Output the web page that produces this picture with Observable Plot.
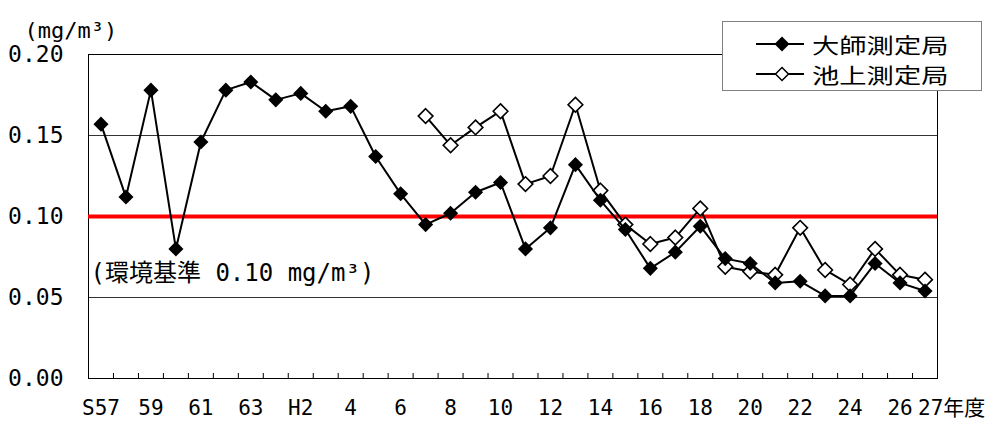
<!DOCTYPE html>
<html><head><meta charset="utf-8">
<script src="https://cdn.jsdelivr.net/npm/d3@7"></script>
<script src="https://cdn.jsdelivr.net/npm/@observablehq/plot@0.6"></script>
<style>
body{margin:0;background:#fff;}
#wrap{position:relative;width:1004px;height:421px;}
#legend{position:absolute;left:722px;top:21px;width:258px;height:68px;border:1px solid #808080;background:#fff;font-family:"Noto Sans CJK JP",sans-serif;font-size:21px;color:#000;}
.row{position:absolute;left:0;height:30px;width:258px;}
.row svg{position:absolute;left:31px;top:0;}
.row span{position:absolute;left:89px;top:0;line-height:30px;white-space:nowrap;transform:scaleX(1.3);transform-origin:0 50%;}
</style></head>
<body>
<div id="wrap"><div id="chart"></div><div id="legend"></div></div>
<script>
// categories (fiscal years)
const years = ["S57","S58","S59","S60","S61","S62","S63","H1","H2","H3","H4","H5","H6","H7","H8","H9","H10","H11","H12","H13","H14","H15","H16","H17","H18","H19","H20","H21","H22","H23","H24","H25","H26","H27"];
// 大師測定局
const daishi = [0.157,0.112,0.178,0.080,0.146,0.178,0.183,0.172,0.176,0.165,0.168,0.137,0.114,0.095,0.102,0.115,0.121,0.080,0.093,0.132,0.110,0.092,0.068,0.078,0.094,0.074,0.071,0.059,0.060,0.051,0.051,0.071,0.059,0.054];
// 池上測定局 (from H7)
const ikegami = [null,null,null,null,null,null,null,null,null,null,null,null,null,0.162,0.144,0.155,0.165,0.120,0.125,0.169,0.116,0.095,0.083,0.087,0.105,0.069,0.066,0.064,0.093,0.067,0.058,0.080,0.064,0.061];
const seriesNames = ["大師測定局","池上測定局"];
// tick labels
const xTickYears = ["S57","S59","S61","S63","H2","H4","H6","H8","H10","H12","H14","H16","H18","H20","H22","H24","H26"];
const xTickLabels = ["S57","59","61","63","H2","4","6","8","10","12","14","16","18","20","22","24","26"];
const lastTickYear = "H27";
const lastTickLabel = "27年度";
const yTicks = [0.00,0.05,0.10,0.15,0.20];
const gridValues = [0.05,0.15];
const standardValue = 0.10;
const standardLabel = "(環境基準 0.10 mg/m³)";
const unitLabel = "(mg/m³)";

const idx = y => years.indexOf(y);
const rowsD = years.map((y,i)=>({i, v: daishi[i]}));
const rowsI = years.map((y,i)=>({i, v: ikegami[i]})).filter(d=>d.v!=null);
const boundaries = years.slice(1).map((y,i)=>i+0.5);
const labelMap = new Map(xTickYears.map((y,k)=>[idx(y), xTickLabels[k]]));

const chart = Plot.plot({
  width:1004, height:421,
  marginLeft:88, marginRight:67, marginTop:54, marginBottom:43,
  style:{fontFamily:'"DejaVu Sans Mono","Noto Sans CJK JP",monospace', background:"#fff", color:"#000"},
  x:{type:"linear", domain:[-0.5, years.length-0.5]},
  y:{domain:[0,0.2]},
  marks:[
    Plot.ruleY(gridValues,{stroke:"#333", strokeWidth:1}),
    Plot.frame({stroke:"#000"}),
    Plot.axisX(boundaries,{tickSize:-5, fill:"none", stroke:"#000", label:null}),
    Plot.axisX([...labelMap.keys()],{tickSize:0, tickPadding:22, tickFormat:i=>labelMap.get(i), fontSize:21, label:null}),
    Plot.axisX([idx(lastTickYear)],{tickSize:0, tickPadding:22, tickFormat:()=>lastTickLabel, fontSize:21, textAnchor:"start", dx:-7, label:null}),
    Plot.axisY(yTicks,{tickSize:0, tickPadding:25, tickFormat:d3.format(".2f"), fontSize:23, label:null}),
    Plot.ruleY([standardValue],{stroke:"#ff0000", strokeWidth:4}),
    Plot.text([standardLabel],{frameAnchor:"left", y:()=>standardValue, text:d=>d, textAnchor:"start", dx:2, dy:57, fontSize:24, fill:"#000"}),
    Plot.text([unitLabel],{frameAnchor:"top-left", text:d=>d, textAnchor:"start", dx:-64, dy:-32, fontSize:22, fill:"#000"}),
    Plot.line(rowsI,{x:"i", y:"v", stroke:"#000", strokeWidth:2}),
    Plot.dot(rowsI,{x:"i", y:"v", symbol:"diamond2", r:6.6, fill:"#fff", stroke:"#000", strokeWidth:1.6}),
    Plot.line(rowsD,{x:"i", y:"v", stroke:"#000", strokeWidth:2}),
    Plot.dot(rowsD,{x:"i", y:"v", symbol:"diamond2", r:6.8, fill:"#000", stroke:"none"})
  ]
});
document.getElementById("chart").appendChild(chart);

// legend
const leg = document.getElementById("legend");
seriesNames.forEach((name,k)=>{
  const row = document.createElement("div");
  row.className = "row";
  row.style.top = (k===0 ? 7 : 37) + "px";
  const filled = k===0;
  row.innerHTML = `<svg width="52" height="30"><line x1="2" x2="50" y1="15" y2="15" stroke="#000" stroke-width="2"/>`+
    `<path d="M28,${filled?7.5:8.5}L${filled?35.5:34.5},15L28,${filled?22.5:21.5}L${filled?20.5:21.5},15Z" fill="${filled?'#000':'#fff'}" stroke="${filled?'none':'#000'}" stroke-width="1.5"/></svg>`+
    `<span>${name}</span>`;
  leg.appendChild(row);
});
</script>
</body></html>
